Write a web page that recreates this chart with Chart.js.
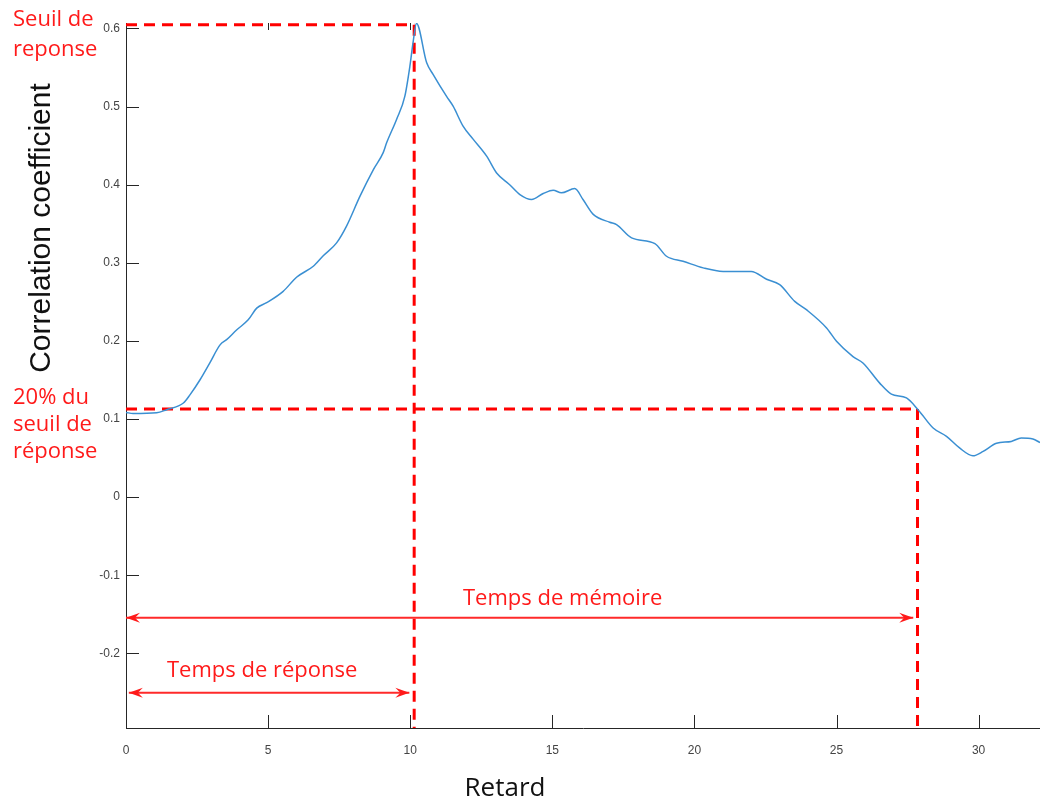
<!DOCTYPE html>
<html>
<head>
<meta charset="utf-8">
<script src="https://cdn.jsdelivr.net/npm/chart.js@4"></script>
<style>
  html, body { margin: 0; padding: 0; background: #fff; }
  #wrap { width: 1040px; height: 800px; }
</style>
</head>
<body>
<div id="wrap"><canvas id="chart" width="1040" height="800"></canvas></div>
<script>
// lag (retard) and correlation coefficient
const lag = [
  0, 0.25, 1.08, 1.43, 2.02, 2.25, 2.6, 2.95, 3.31, 3.54,
  3.89, 4.3, 4.6, 4.95, 5.53, 6.0, 6.59, 6.94, 7.41, 7.76,
  8.23, 8.7, 9.05, 9.17, 9.52, 9.81, 9.99, 10.1, 10.22, 10.58,
  10.81, 11.28, 11.51, 11.86, 12.22, 12.69, 13.04, 13.5, 13.86, 14.27,
  14.68, 15.03, 15.32, 15.79, 16.08, 16.44, 17.02, 17.26, 17.79, 18.61,
  19.02, 19.6, 20.31, 21.01, 22.0, 22.54, 23.0, 23.53, 23.94, 24.65,
  25.0, 25.58, 25.93, 26.52, 26.93, 27.46, 27.87, 28.4, 28.87, 29.33,
  29.8, 30.16, 30.63, 31.15, 31.5, 31.91, 32.16
];
const corr = [
  0.1085, 0.107, 0.108, 0.112, 0.1205, 0.131, 0.150, 0.172, 0.195, 0.2016,
  0.214, 0.227, 0.242, 0.249, 0.2635, 0.2815, 0.2956, 0.309, 0.3255, 0.347,
  0.385, 0.419, 0.441, 0.4536, 0.4835, 0.513, 0.552, 0.582, 0.6065, 0.556,
  0.541, 0.513, 0.5005, 0.475, 0.458, 0.4365, 0.415, 0.400, 0.3874, 0.381,
  0.3887, 0.393, 0.3896, 0.395, 0.381, 0.362, 0.352, 0.349, 0.332, 0.3246,
  0.3084, 0.302, 0.2935, 0.289, 0.289, 0.279, 0.272, 0.2507, 0.240, 0.2166,
  0.1995, 0.180, 0.1718, 0.146, 0.132, 0.127, 0.112, 0.0885, 0.0778, 0.063,
  0.053, 0.0586, 0.069, 0.0714, 0.0757, 0.0744, 0.070
];

const xTicks = [0, 5, 10, 15, 20, 25, 30];
const yTicks = [-0.2, -0.1, 0, 0.1, 0.2, 0.3, 0.4, 0.5, 0.6];
const xRange = [0, 32.16];
const yRange = [-0.2955, 0.607];

// seuil de reponse (peak) and 20% level, with their lags
const peakLag = 10.14, peakValue = 0.6047;
const memLag = 27.85, memValue = 0.113;
// arrows: [start, end, level]
const memArrow = [0, 27.7, -0.1545];
const respArrow = [0.1, 9.97, -0.2505];

const RED = '#ff0000';
const dashed = { borderColor: RED, borderWidth: 3, borderDash: [11, 7], pointRadius: 0, tension: 0 };
const solid = { borderColor: '#ff2a2a', borderWidth: 2, pointRadius: 0, tension: 0 };

const annot = {
  id: 'annot',
  beforeDatasetsDraw(chart) {
    const { ctx, scales: { x, y } } = chart;
    ctx.save();
    ctx.strokeStyle = '#262626';
    ctx.lineWidth = 1;
    ctx.beginPath();
    yTicks.forEach(v => {
      const py = Math.round(y.getPixelForValue(v)) + 0.5;
      ctx.moveTo(x.left, py); ctx.lineTo(x.left + 13, py);
    });
    xTicks.forEach(v => {
      const px = Math.round(x.getPixelForValue(v)) + 0.5;
      ctx.moveTo(px, y.bottom); ctx.lineTo(px, y.bottom - 13);
    });
    [5, 10].forEach(v => {
      const px = Math.round(x.getPixelForValue(v)) + 0.5;
      ctx.moveTo(px, y.top); ctx.lineTo(px, y.top + 7);
    });
    ctx.stroke();
    ctx.restore();
  },
  afterDatasetsDraw(chart) {
    const { ctx, scales: { x, y } } = chart;
    ctx.save();
    const head = (tipX, tipY, dir) => {
      ctx.beginPath();
      ctx.moveTo(tipX, tipY);
      ctx.lineTo(tipX - dir * 14, tipY - 5);
      ctx.lineTo(tipX - dir * 9, tipY);
      ctx.lineTo(tipX - dir * 14, tipY + 5);
      ctx.closePath();
      ctx.fill();
    };
    ctx.fillStyle = '#ff1a1a';
    [memArrow, respArrow].forEach(a => {
      const py = y.getPixelForValue(a[2]);
      head(x.getPixelForValue(a[0]), py, -1);
      head(x.getPixelForValue(a[1]), py, 1);
    });

    ctx.font = '22px "Open Sans"';
    ctx.textBaseline = 'alphabetic';
    ctx.textAlign = 'left';
    ctx.fillText('Seuil de', 13, 26);
    ctx.fillText('reponse', 13, 56);
    ctx.fillText('20% du', 13, 404);
    ctx.fillText('seuil de', 13, 431);
    ctx.fillText('réponse', 13, 458);
    ctx.fillText('Temps de mémoire', 463, 605);
    ctx.fillText('Temps de réponse', 167, 677);

    ctx.fillStyle = '#111';
    ctx.textAlign = 'center';
    ctx.font = '26px "Open Sans"';
    ctx.fillText('Retard', 505, 796);
    ctx.translate(50, 228);
    ctx.rotate(-Math.PI / 2);
    ctx.font = '30px "Liberation Sans"';
    ctx.fillText('Correlation coefficient', 0, 0);
    ctx.restore();
  }
};

new Chart(document.getElementById('chart'), {
  type: 'line',
  data: {
    datasets: [
      {
        data: lag.map((v, i) => ({ x: v, y: corr[i] })),
        borderColor: '#3a8fd2', borderWidth: 1.5, pointRadius: 0,
        cubicInterpolationMode: 'monotone'
      },
      { ...dashed, data: [{ x: 0, y: peakValue }, { x: peakLag, y: peakValue }] },
      { ...dashed, data: [{ x: peakLag, y: peakValue }, { x: peakLag, y: yRange[0] }] },
      { ...dashed, data: [{ x: 0, y: memValue }, { x: memLag, y: memValue }] },
      { ...dashed, data: [{ x: memLag, y: memValue }, { x: memLag, y: yRange[0] }] },
      { ...solid, data: [{ x: memArrow[0], y: memArrow[2] }, { x: memArrow[1], y: memArrow[2] }] },
      { ...solid, data: [{ x: respArrow[0], y: respArrow[2] }, { x: respArrow[1], y: respArrow[2] }] }
    ]
  },
  options: {
    responsive: false,
    animation: false,
    layout: { padding: { top: 23, left: 0, right: 0, bottom: 0 } },
    plugins: { legend: { display: false }, tooltip: { enabled: false } },
    scales: {
      x: {
        type: 'linear',
        min: xRange[0], max: xRange[1],
        afterBuildTicks: s => { s.ticks = xTicks.map(v => ({ value: v })); },
        afterFit: s => { s.height = 72; },
        grid: { drawOnChartArea: false, drawTicks: false, color: 'rgba(0,0,0,0)' },
        border: { color: '#262626', width: 1 },
        ticks: { color: '#444', padding: 15, maxRotation: 0, font: { family: 'Liberation Sans', size: 12 } }
      },
      y: {
        type: 'linear',
        min: yRange[0], max: yRange[1],
        afterBuildTicks: s => { s.ticks = yTicks.map(v => ({ value: v })); },
        afterFit: s => { s.width = 126; },
        grid: { drawOnChartArea: false, drawTicks: false, color: 'rgba(0,0,0,0)' },
        border: { color: '#262626', width: 1 },
        ticks: { color: '#444', padding: 6, font: { family: 'Liberation Sans', size: 12 }, callback: v => String(+v.toFixed(1)) }
      }
    }
  },
  plugins: [annot]
});
</script>
</body>
</html>
